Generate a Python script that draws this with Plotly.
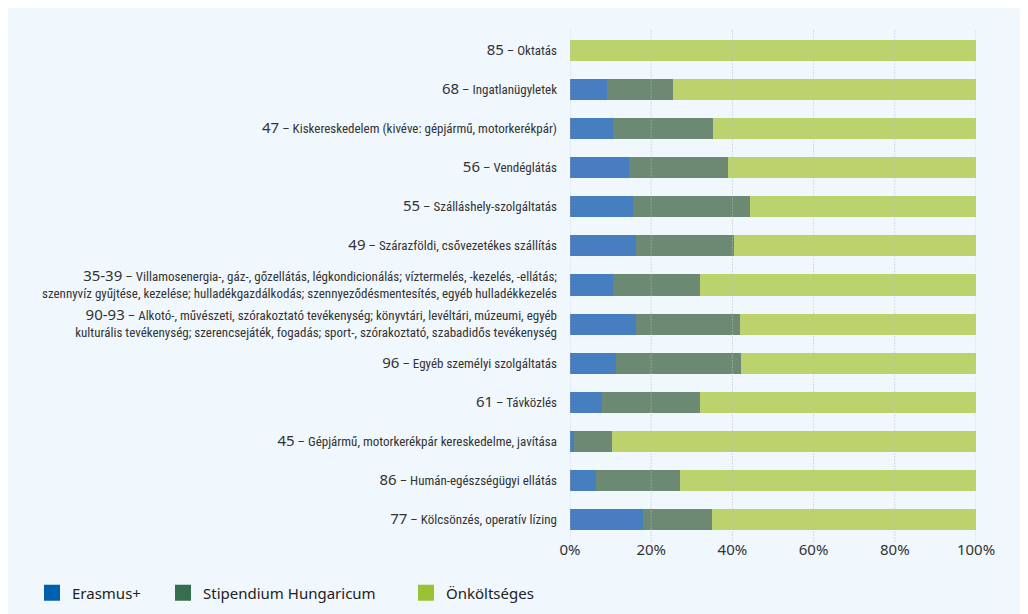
import plotly.graph_objects as go

codes = ["85", "68", "47", "56", "55", "49", "35-39", "90-93", "96", "61", "45", "86", "77"]
names = [
    "Oktatás",
    "Ingatlanügyletek",
    "Kiskereskedelem (kivéve: gépjármű, motorkerékpár)",
    "Vendéglátás",
    "Szálláshely-szolgáltatás",
    "Szárazföldi, csővezetékes szállítás",
    "Villamosenergia-, gáz-, gőzellátás, légkondicionálás; víztermelés, -kezelés, -ellátás;<br>szennyvíz gyűjtése, kezelése; hulladékgazdálkodás; szennyeződésmentesítés, egyéb hulladékkezelés",
    "Alkotó-, művészeti, szórakoztató tevékenység; könyvtári, levéltári, múzeumi, egyéb<br>kulturális tevékenység; szerencsejáték, fogadás; sport-, szórakoztató, szabadidős tevékenység",
    "Egyéb személyi szolgáltatás",
    "Távközlés",
    "Gépjármű, motorkerékpár kereskedelme, javítása",
    "Humán-egészségügyi ellátás",
    "Kölcsönzés, operatív lízing",
]
erasmus = [0, 9.1, 10.6, 14.5, 15.5, 16.3, 10.6, 16.3, 11.3, 7.9, 1.0, 6.4, 18.0]
stipendium = [0, 16.3, 24.6, 24.4, 28.8, 24.1, 21.4, 25.6, 30.8, 24.1, 9.3, 20.7, 17.0]
onkoltseges = [round(100 - e - s, 1) for e, s in zip(erasmus, stipendium)]

series_names = ["Erasmus+", "Stipendium Hungaricum", "Önköltséges"]
bar_colors = ["#467EBF", "#6C8A73", "#BCD36D"]
legend_colors = ["#0060B0", "#376E50", "#9CC234"]
x_ticks = [0, 20, 40, 60, 80, 100]
x_ticklabels = [f"{v}%" for v in x_ticks]

ypos = list(range(len(codes)))
ticktext = []
for c, n in zip(codes, names):
    ticktext.append(
        f"<span style='font-family:Noto Sans;font-size:15px'>{c}</span>"
        f"<span style='font-family:Roboto Condensed;font-size:13px'> – {n}</span>"
    )

# figure geometry (the page adds an 8px body margin)
W, H = 1020, 606
L, R, T, B = 562, 52, 23, 75
pw, ph = W - L - R, H - T - B
def px_x(p):
    return (p - L) / pw
def px_y(p):
    return (H - B - p) / ph

fig = go.Figure()
for name, vals, col in zip(series_names, [erasmus, stipendium, onkoltseges], bar_colors):
    fig.add_trace(go.Bar(
        y=ypos, x=vals, orientation="h", name=name,
        marker=dict(color=col, line=dict(width=0)),
        width=0.54, showlegend=False, hoverinfo="x+name",
    ))
legend_keys = ["legend", "legend2", "legend3"]
legend_centers = [44, 175, 418]
for name, col, lk in zip(series_names, legend_colors, legend_keys):
    fig.add_trace(go.Scatter(
        x=[None], y=[None], mode="markers", name=name, legend=lk,
        marker=dict(symbol="square", size=18, color=col),
    ))

# dotted gridlines drawn above the bars, at the tick values
for v in x_ticks:
    fig.add_shape(type="line", xref="x", yref="paper", x0=v, x1=v, y0=-0.005, y1=1.005,
                  line=dict(color="#B9BEC3", width=1, dash="1px,2px"), layer="above")

legend_style = dict(
    orientation="h", xanchor="left", y=px_y(585), yanchor="middle",
    font=dict(family="Noto Sans", size=15, color="#222222"),
    bgcolor="rgba(0,0,0,0)",
)
fig.update_layout(
    width=W, height=H,
    barmode="stack",
    paper_bgcolor="#F0F7FD",
    plot_bgcolor="rgba(0,0,0,0)",
    margin=dict(l=L, r=R, t=T, b=B, pad=0, autoexpand=False),
    font=dict(family="Noto Sans", color="#333333", size=13),
    xaxis=dict(
        range=[0, 100], tickvals=x_ticks, ticktext=x_ticklabels,
        showgrid=False, zeroline=False, showline=False, ticks="", automargin=False,
        tickfont=dict(family="Noto Sans", size=15, color="#333333"),
        fixedrange=True,
    ),
    yaxis=dict(
        tickvals=ypos, ticktext=ticktext, autorange="reversed",
        showgrid=False, zeroline=False, showline=False, ticks="",
        ticklabelstandoff=12, automargin=False,
        tickfont=dict(color="#333333"),
    ),
    legend=dict(x=px_x(legend_centers[0] - 20), **legend_style),
    legend2=dict(x=px_x(legend_centers[1] - 20), **legend_style),
    legend3=dict(x=px_x(legend_centers[2] - 20), **legend_style),
)

fig.write_html("out.html")
